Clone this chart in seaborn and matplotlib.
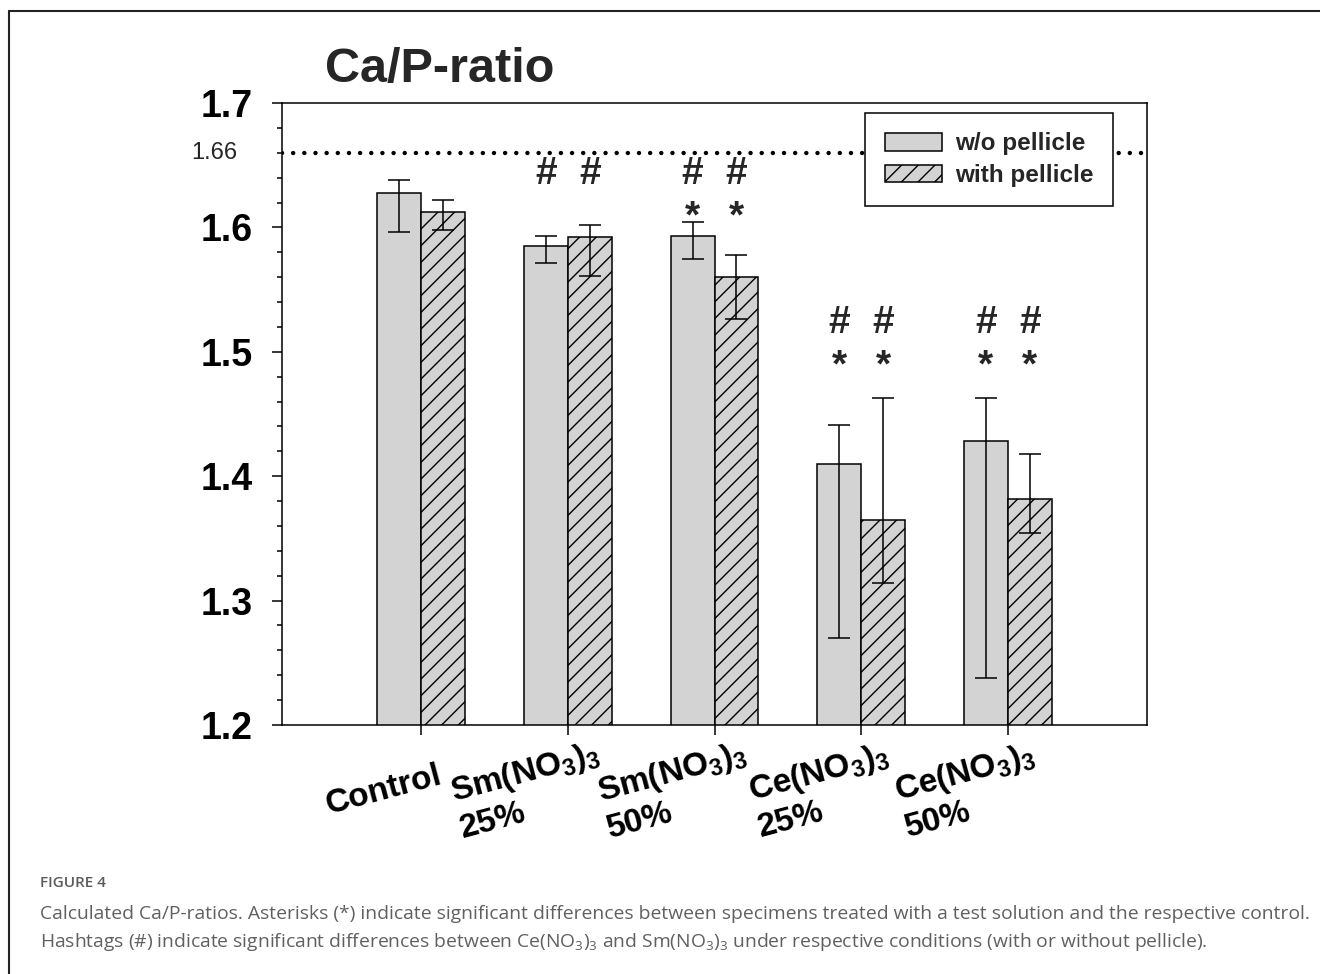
import numpy as np
import pandas as pd
import matplotlib
matplotlib.use("Agg")
import matplotlib.pyplot as plt
import matplotlib.transforms as mtransforms
from matplotlib.lines import Line2D
from matplotlib.patches import Patch
from matplotlib.ticker import MultipleLocator, FormatStrFormatter
import seaborn as sns

# ---- data -------------------------------------------------------------
treatments = [
    "Control",
    "Sm(NO$_3$)$_3$\n25%",
    "Sm(NO$_3$)$_3$\n50%",
    "Ce(NO$_3$)$_3$\n25%",
    "Ce(NO$_3$)$_3$\n50%",
]
conditions = ["w/o pellicle", "with pellicle"]

ratio_without = [1.628, 1.585, 1.593, 1.410, 1.428]
ratio_with = [1.612, 1.592, 1.560, 1.365, 1.382]

low_without = [1.596, 1.571, 1.575, 1.270, 1.238]
high_without = [1.638, 1.593, 1.604, 1.441, 1.463]
low_with = [1.598, 1.561, 1.526, 1.314, 1.354]
high_with = [1.622, 1.602, 1.578, 1.463, 1.418]

# significance markers per treatment (same for both conditions)
hash_marks = [False, True, True, True, True]
star_marks = [False, False, True, True, True]
hash_height = [None, 1.643, 1.643, 1.523, 1.523]
star_height = [None, None, 1.608, 1.488, 1.488]

reference_ratio = 1.66

caption_title = "FIGURE 4"
caption_lines = [
    "Calculated Ca/P-ratios. Asterisks (*) indicate significant differences between "
    "specimens treated with a test solution and the respective control.",
    "Hashtags (#) indicate significant differences between Ce(NO$_3$)$_3$ and "
    "Sm(NO$_3$)$_3$ under respective conditions (with or without pellicle).",
]

BAR_GRAY = "#d3d3d3"

# ---- style ------------------------------------------------------------
sns.set_theme(style="ticks")
plt.rcParams["font.family"] = ["Liberation Sans", "DejaVu Sans"]
plt.rcParams["mathtext.default"] = "regular"
plt.rcParams["axes.edgecolor"] = "black"
plt.rcParams["xtick.color"] = "black"
plt.rcParams["ytick.color"] = "black"
plt.rcParams["hatch.linewidth"] = 1.0
plt.rcParams["hatch.color"] = "black"

fig = plt.figure(figsize=(13.2, 9.74), dpi=100)
ax = fig.add_axes([282 / 1320, 1 - 725 / 974, 865 / 1320, 622 / 974])

df = pd.DataFrame({
    "treatment": treatments * 2,
    "condition": [conditions[0]] * len(treatments) + [conditions[1]] * len(treatments),
    "ratio": ratio_without + ratio_with,
})

sns.barplot(
    data=df, x="treatment", y="ratio", hue="condition",
    order=treatments, hue_order=conditions,
    palette=[BAR_GRAY, BAR_GRAY], saturation=1, errorbar=None,
    width=0.6, edgecolor="black", linewidth=1.1, legend=False, ax=ax, zorder=2,
)

n = len(treatments)
bars_without = ax.patches[:n]
bars_with = ax.patches[n:2 * n]
for p in bars_with:
    p.set_hatch("//")

cx_without = [p.get_x() + p.get_width() / 2 for p in bars_without]
cx_with = [p.get_x() + p.get_width() / 2 for p in bars_with]

for cx, val, lo, hi in [(cx_without, ratio_without, low_without, high_without),
                        (cx_with, ratio_with, low_with, high_with)]:
    val = np.asarray(val)
    yerr = [val - np.asarray(lo), np.asarray(hi) - val]
    ax.errorbar(cx, val, yerr=yerr, fmt="none", ecolor="black",
                elinewidth=1.1, capsize=8, capthick=1.1, zorder=3)

# reference line for stoichiometric hydroxyapatite
ax.axhline(reference_ratio, color="black", lw=3.2, linestyle=(0, (0.01, 2.5)),
           dash_capstyle="round", zorder=1)
ax.text(-0.052, reference_ratio, f"{reference_ratio:.2f}",
        transform=mtransforms.blended_transform_factory(ax.transAxes, ax.transData),
        ha="right", va="center", fontsize=17)

# significance markers
for i in range(n):
    for cx in (cx_without[i], cx_with[i]):
        if hash_marks[i]:
            ax.text(cx, hash_height[i], "#", ha="center", va="center",
                    fontsize=28, fontweight="bold", zorder=4)
        if star_marks[i]:
            ax.text(cx, star_height[i], "*", ha="center", va="center",
                    fontsize=28, fontweight="bold", zorder=4)

# axes
ax.set_xlim(-0.95, 4.95)
ax.set_ylim(1.2, 1.7)
ax.yaxis.set_major_locator(MultipleLocator(0.1))
ax.yaxis.set_minor_locator(MultipleLocator(0.02))
ax.yaxis.set_major_formatter(FormatStrFormatter("%.1f"))
ax.set_xlabel("")
ax.set_ylabel("")
for side in ["left", "right", "top", "bottom"]:
    ax.spines[side].set_visible(True)
    ax.spines[side].set_linewidth(1.1)
    ax.spines[side].set_color("black")

ax.tick_params(axis="y", which="major", direction="out", length=7.2, width=1.1,
               pad=13.7, labelsize=27)
ax.tick_params(axis="y", which="minor", direction="out", length=3.6, width=1.1)
ax.tick_params(axis="x", which="major", direction="out", length=7.2, width=1.1,
               pad=40, labelsize=24)
for lbl in ax.get_yticklabels():
    lbl.set_fontweight("bold")

ax.set_xticks(range(n))
ax.set_xticklabels(treatments, rotation=15, ha="center", va="center",
                   rotation_mode="anchor", multialignment="left",
                   fontweight="bold", fontsize=24)
shift = mtransforms.ScaledTranslation(-0.38, 0, fig.dpi_scale_trans)
for lbl in ax.get_xticklabels():
    lbl.set_transform(lbl.get_transform() + shift)

# legend
handles = [
    Patch(facecolor=BAR_GRAY, edgecolor="black", linewidth=1.1),
    Patch(facecolor=BAR_GRAY, edgecolor="black", linewidth=1.1, hatch="//"),
]
leg = ax.legend(handles, conditions, loc="upper right", bbox_to_anchor=(0.961, 0.984),
                borderaxespad=0, frameon=True, fancybox=False, framealpha=1,
                edgecolor="black", prop=dict(family="Liberation Sans", weight="bold", size=17.5),
                handlelength=2.35, handleheight=0.75, handletextpad=0.55,
                borderpad=0.8, labelspacing=0.35)
leg.get_frame().set_linewidth(1.1)
leg.set_zorder(5)

# title
fig.text(325 / 1320, 1 - 82 / 974, "Ca/P-ratio", fontsize=35, fontweight="bold",
         ha="left", va="baseline")

# page frame
fig.add_artist(Line2D([9 / 1320, 9 / 1320], [0, 1 - 11 / 974],
                      transform=fig.transFigure, color="#222222", lw=1.5))
fig.add_artist(Line2D([9 / 1320, 1], [1 - 11 / 974, 1 - 11 / 974],
                      transform=fig.transFigure, color="#222222", lw=1.5))

# caption
fig.text(40 / 1320, 1 - 883 / 974, caption_title, family="Open Sans",
         fontweight="semibold", fontsize=11, color="#5a5a5a", va="center")
cap_texts = []
for k, line in enumerate(caption_lines):
    t = fig.text(40 / 1320, 1 - (914 + 28 * k) / 974, line, family="Open Sans",
                 fontsize=12, color="#606060", va="center", ha="left")
    cap_texts.append(t)

# fit the first caption line to the text block width
fig.canvas.draw()
renderer = fig.canvas.get_renderer()
w = cap_texts[0].get_window_extent(renderer).width
size = 12 * (1258 / w)
for t in cap_texts:
    t.set_fontsize(size)

fig.savefig("out.png", dpi=100, facecolor="white")
